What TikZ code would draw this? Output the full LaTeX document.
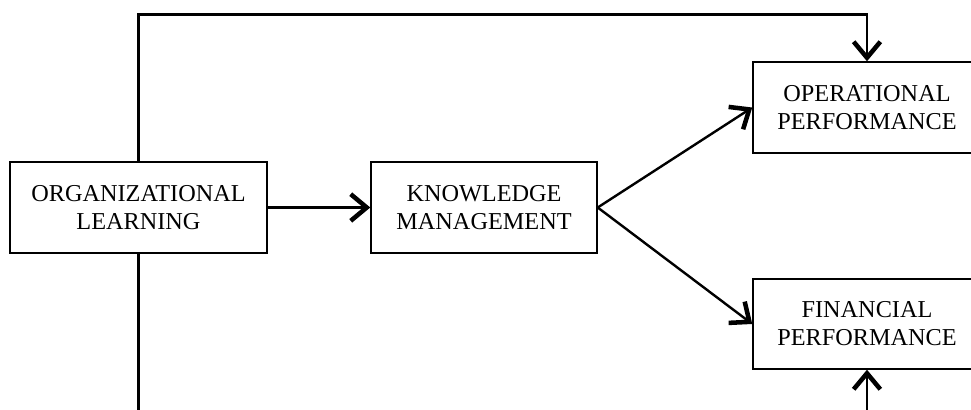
\documentclass[tikz,border=0pt]{standalone}
\usepackage{fontspec}
\setmainfont{Liberation Serif}
\usetikzlibrary{arrows.meta}
\begin{document}
\begin{tikzpicture}[x=0.75pt,y=-0.75pt,
  boxnode/.style={draw,line width=1.1pt,minimum height=91*0.75pt,inner sep=0pt,align=center,
    font=\fontsize{18.2}{21}\selectfont},
  conn/.style={line width=1.8pt},
  arr/.style={conn,-{Straight Barb[length=12pt,width=20pt,line width=3.4pt]}}]
\useasboundingbox (0,0) rectangle (971,410);
\node[boxnode,minimum width=257*0.75pt] (OL) at (138.5,207.5) {ORGANIZATIONAL\\LEARNING};
\node[boxnode,minimum width=226*0.75pt] (KM) at (484,207.5) {KNOWLEDGE\\MANAGEMENT};
\node[boxnode,minimum width=228*0.75pt] (OP) at (867,107.5) {OPERATIONAL\\PERFORMANCE};
\node[boxnode,minimum width=228*0.75pt,minimum height=90*0.75pt] (FP) at (867,324) {FINANCIAL\\PERFORMANCE};
\coordinate (tr) at (867,14.5);
\coordinate (bl) at (138.5,414);
\coordinate (br) at (867,414);
\draw[arr] (OL.north) |- (tr) -- (OP.north);
\draw[arr] (OL.east) -- (KM.west);
\draw[arr] (KM.east) -- (OP.west);
\draw[arr] (KM.east) -- (FP.west);
\draw[conn] (OL.south) -- (bl);
\draw[arr] (br) -- (FP.south);
\end{tikzpicture}
\end{document}
